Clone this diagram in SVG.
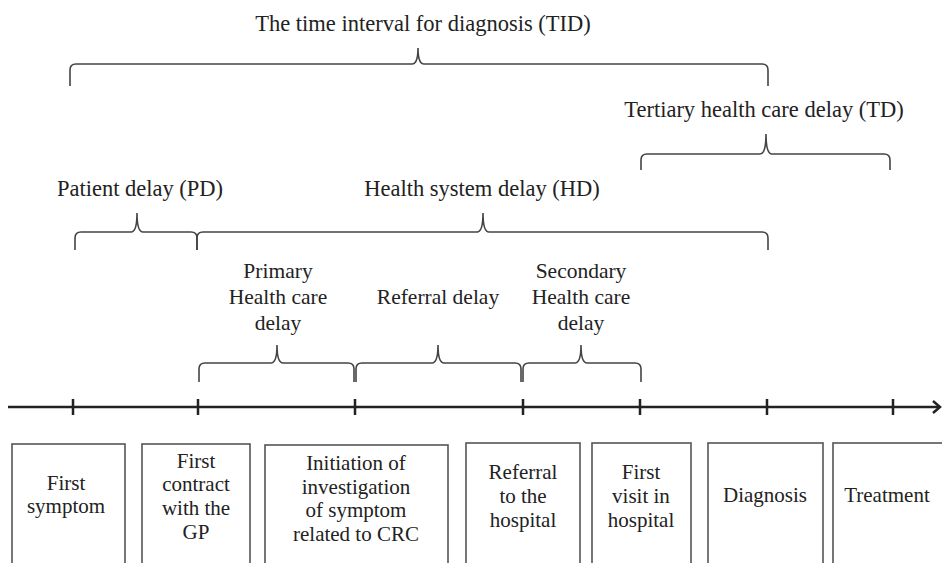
<svg xmlns="http://www.w3.org/2000/svg" width="942" height="563" viewBox="0 0 942 563">
<style>
.lbl{font-family:"Liberation Serif","Times New Roman",serif;font-size:22.5px;fill:#222;text-anchor:middle}
.sub{font-family:"Liberation Serif","Times New Roman",serif;font-size:21.5px;fill:#222;text-anchor:middle}
.box{fill:#fff;stroke:#555;stroke-width:1.6}
.bt{font-family:"Liberation Serif","Times New Roman",serif;font-size:21px;fill:#222;text-anchor:middle}
.br{fill:none;stroke:#444;stroke-width:1.6}
.ax{stroke:#222;stroke-width:2.5;fill:none}
</style>
<rect width="942" height="563" fill="#fff"/>
<g id="labels">
<text class="lbl" x="423" y="31">The time interval for diagnosis (TID)</text>
<text class="lbl" x="764" y="117">Tertiary health care delay (TD)</text>
<text class="lbl" x="140" y="196">Patient delay (PD)</text>
<text class="lbl" x="482" y="196">Health system delay (HD)</text>
<text class="sub" x="278" y="278">Primary</text>
<text class="sub" x="278" y="304">Health care</text>
<text class="sub" x="278" y="330">delay</text>
<text class="sub" x="438" y="304">Referral delay</text>
<text class="sub" x="581" y="278">Secondary</text>
<text class="sub" x="581" y="304">Health care</text>
<text class="sub" x="581" y="330">delay</text>
</g>
<g id="connectors">
<path class="br" d="M70 86 L70 70 Q70 64 76 64 L412 64 Q418 64 418 48 Q418 64 424 64 L762 64 Q768 64 768 70 L768 86"/>
<path class="br" d="M641 170 L641 160 Q641 154 647 154 L760 154 Q766 154 766 134 Q766 154 772 154 L884 154 Q890 154 890 160 L890 170"/>
<path class="br" d="M75 250 L75 238 Q75 232 81 232 L131 232 Q137 232 137 213 Q137 232 143 232 L191 232 Q197 232 197 238 L197 250"/>
<path class="br" d="M197 250 L197 238 Q197 232 203 232 L477 232 Q483 232 483 213 Q483 232 489 232 L762 232 Q768 232 768 238 L768 250"/>
<path class="br" d="M199 382 L199 369 Q199 363 205 363 L271 363 Q277 363 277 345 Q277 363 283 363 L348 363 Q354 363 354 369 L354 382"/>
<path class="br" d="M356 382 L356 369 Q356 363 362 363 L432 363 Q438 363 438 345 Q438 363 444 363 L515 363 Q521 363 521 369 L521 382"/>
<path class="br" d="M523 382 L523 369 Q523 363 529 363 L575 363 Q581 363 581 345 Q581 363 587 363 L635 363 Q641 363 641 369 L641 382"/>
<g id="axis">
<path class="ax" d="M8 407 L940 407"/>
<path class="ax" d="M933 401 L940 407 L933 413"/>
<path class="ax" d="M73 399 V415 M198 399 V415 M355 399 V415 M523 399 V415 M640 399 V415 M767 399 V415 M893 399 V415"/>
</g>
</g>
<g id="n1"><rect class="box" x="12" y="444" width="113" height="130"/>
<text class="bt" x="66" y="490">First</text><text class="bt" x="66" y="513">symptom</text></g>
<g id="n2"><rect class="box" x="142" y="444" width="108" height="130"/>
<text class="bt" x="196" y="468">First</text><text class="bt" x="196" y="491">contract</text><text class="bt" x="196" y="515">with the</text><text class="bt" x="196" y="539">GP</text></g>
<g id="n3"><rect class="box" x="265" y="445" width="183" height="130"/>
<text class="bt" x="356" y="470">Initiation of</text><text class="bt" x="356" y="494">investigation</text><text class="bt" x="356" y="517">of symptom</text><text class="bt" x="356" y="541">related to CRC</text></g>
<g id="n4"><rect class="box" x="466" y="443" width="114" height="130"/>
<text class="bt" x="523" y="479">Referral</text><text class="bt" x="523" y="503">to the</text><text class="bt" x="523" y="527">hospital</text></g>
<g id="n5"><rect class="box" x="592" y="443" width="99" height="130"/>
<text class="bt" x="641" y="479">First</text><text class="bt" x="641" y="503">visit in</text><text class="bt" x="641" y="527">hospital</text></g>
<g id="n6"><rect class="box" x="708" y="443" width="115" height="130"/>
<text class="bt" x="765" y="502">Diagnosis</text></g>
<g id="n7"><rect class="box" x="833" y="443" width="120" height="130"/>
<text class="bt" x="887" y="502">Treatment</text></g>
</svg>
